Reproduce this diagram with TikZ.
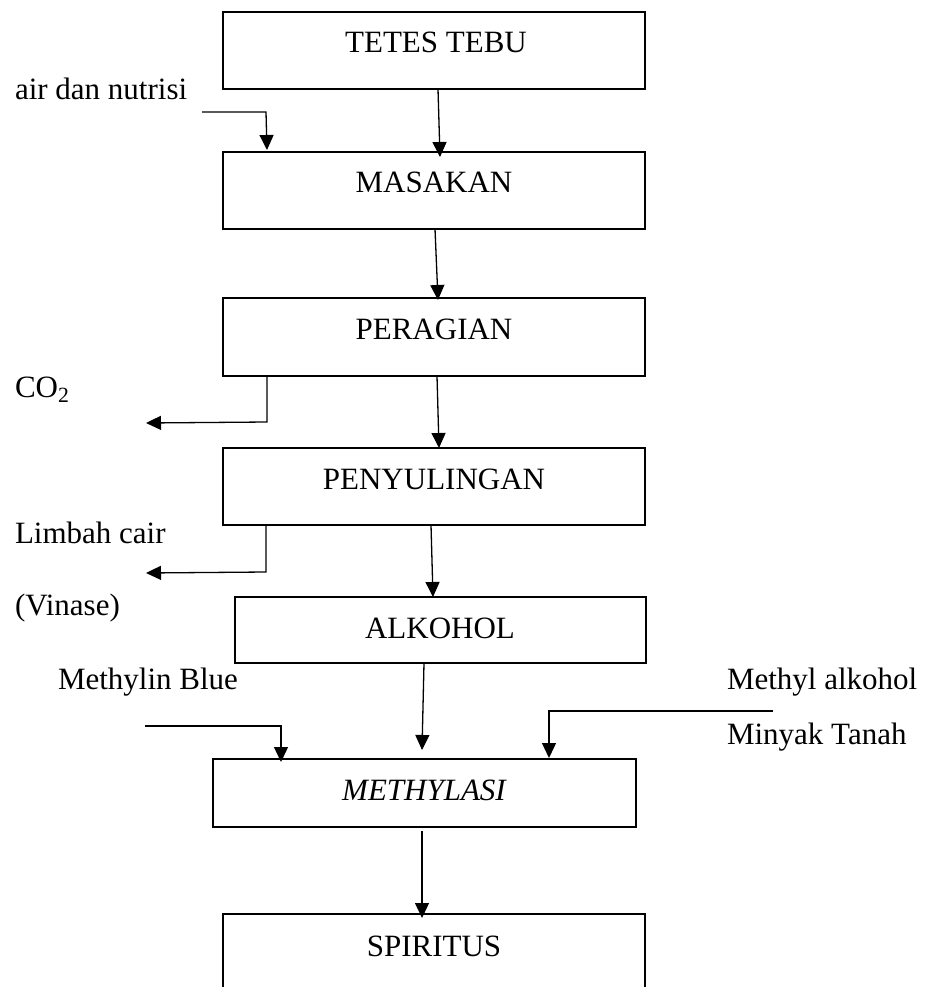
\documentclass[tikz,border=0pt]{standalone}
\usepackage{fontspec}
\setmainfont{Liberation Serif}
\usetikzlibrary{arrows.meta,calc}

\begin{document}
\begin{tikzpicture}[x=1pt,y=-1pt,
  box/.style={draw, line width=1.6pt, rectangle, inner sep=0pt, outer sep=0pt, anchor=north west},
  txt/.style={inner sep=0pt, outer sep=0pt, font=\fontsize{31pt}{37pt}\selectfont},
  flow/.style={line width=1.3pt, -{Triangle[length=15pt,width=14pt]}}
]
% page frame
\useasboundingbox (0,0) rectangle (927,987);
\fill[white] (0,0) rectangle (927,987);
\clip (0,0) rectangle (927,987);

% process boxes
\node[box, minimum width=422pt, minimum height=77pt] (tetes)       at (223,12)  {};
\node[box, minimum width=422pt, minimum height=77pt] (masakan)     at (223,152) {};
\node[box, minimum width=422pt, minimum height=78pt] (peragian)    at (223,298) {};
\node[box, minimum width=422pt, minimum height=77pt] (penyulingan) at (223,448) {};
\node[box, minimum width=411pt, minimum height=66pt] (alkohol)     at (235,597) {};
\node[box, minimum width=423pt, minimum height=68pt] (methylasi)   at (213,759) {};
\node[box, minimum width=422pt, minimum height=100pt] (spiritus)   at (223,914) {};

% box titles
\node[txt, anchor=base] (tTetes)       at (436,53)  {TETES TEBU};
\node[txt, anchor=base] (tMasakan)     at (434,193) {MASAKAN};
\node[txt, anchor=base] (tPeragian)    at (434,339) {PERAGIAN};
\node[txt, anchor=base] (tPenyulingan) at (434,489) {PENYULINGAN};
\node[txt, anchor=base] (tAlkohol)     at (440,638) {ALKOHOL};
\node[txt, anchor=base] (tMethylasi)   at (424,800) {\itshape METHYLASI};
\node[txt, anchor=base] (tSpiritus)    at (434,956) {SPIRITUS};

% side labels
\node[txt, anchor=base west] (lAir)    at (15,100) {air dan nutrisi};
\node[txt, anchor=base west] (lCO)     at (15,397) {CO\textsubscript{2}};
\node[txt, anchor=base west] (lLimbah) at (15,543) {Limbah cair};
\node[txt, anchor=base west] (lVinase) at (15,615) {(Vinase)};
\node[txt, anchor=base west] (lBlue)   at (58,689) {Methylin Blue};
\node[txt, anchor=base west] (lMethyl) at (727,689) {Methyl alkohol};
\node[txt, anchor=base west] (lMinyak) at (727,744) {Minyak Tanah};

% free ends of the side streams
\coordinate (airIn)     at (202,112);
\coordinate (coOut)     at (146,423);
\coordinate (limbahOut) at (146,573);
\coordinate (blueIn)    at (145,726);
\coordinate (methIn)    at (773,711);

% main flow
\draw[flow] ($(tetes.south west)+(215,0)$)       -- ($(masakan.north west)+(217,5)$);
\draw[flow] ($(masakan.south west)+(212,0)$)     -- ($(peragian.north west)+(215,2)$);
\draw[flow] ($(peragian.south west)+(214,0)$)    -- ($(penyulingan.north west)+(216,0)$);
\draw[flow] ($(penyulingan.south west)+(208,0)$) -- ($(alkohol.north west)+(198,0)$);
\draw[flow] ($(alkohol.south west)+(189,0)$)     -- ($(methylasi.north west)+(209,-9)$);
\draw[flow] ($(methylasi.south west)+(209,4)$)   -- ($(spiritus.north west)+(199,4)$);

% side streams
\draw[flow] (airIn) -- ($(masakan.north west)+(43,-40)$) -- ($(masakan.north west)+(44,-2)$);
\draw[flow] ($(peragian.south west)+(44,0)$) -- ($(peragian.south west)+(44,46)$) -- (coOut);
\draw[flow] ($(penyulingan.south west)+(43,0)$) -- ($(penyulingan.south west)+(43,47)$) -- (limbahOut);
\draw[flow] (blueIn) -- ($(methylasi.north west)+(68,-33)$) -- ($(methylasi.north west)+(68,3)$);
\draw[flow] (methIn) -- ($(methylasi.north west)+(336,-48)$) -- ($(methylasi.north west)+(336,-1)$);
\end{tikzpicture}
\end{document}
